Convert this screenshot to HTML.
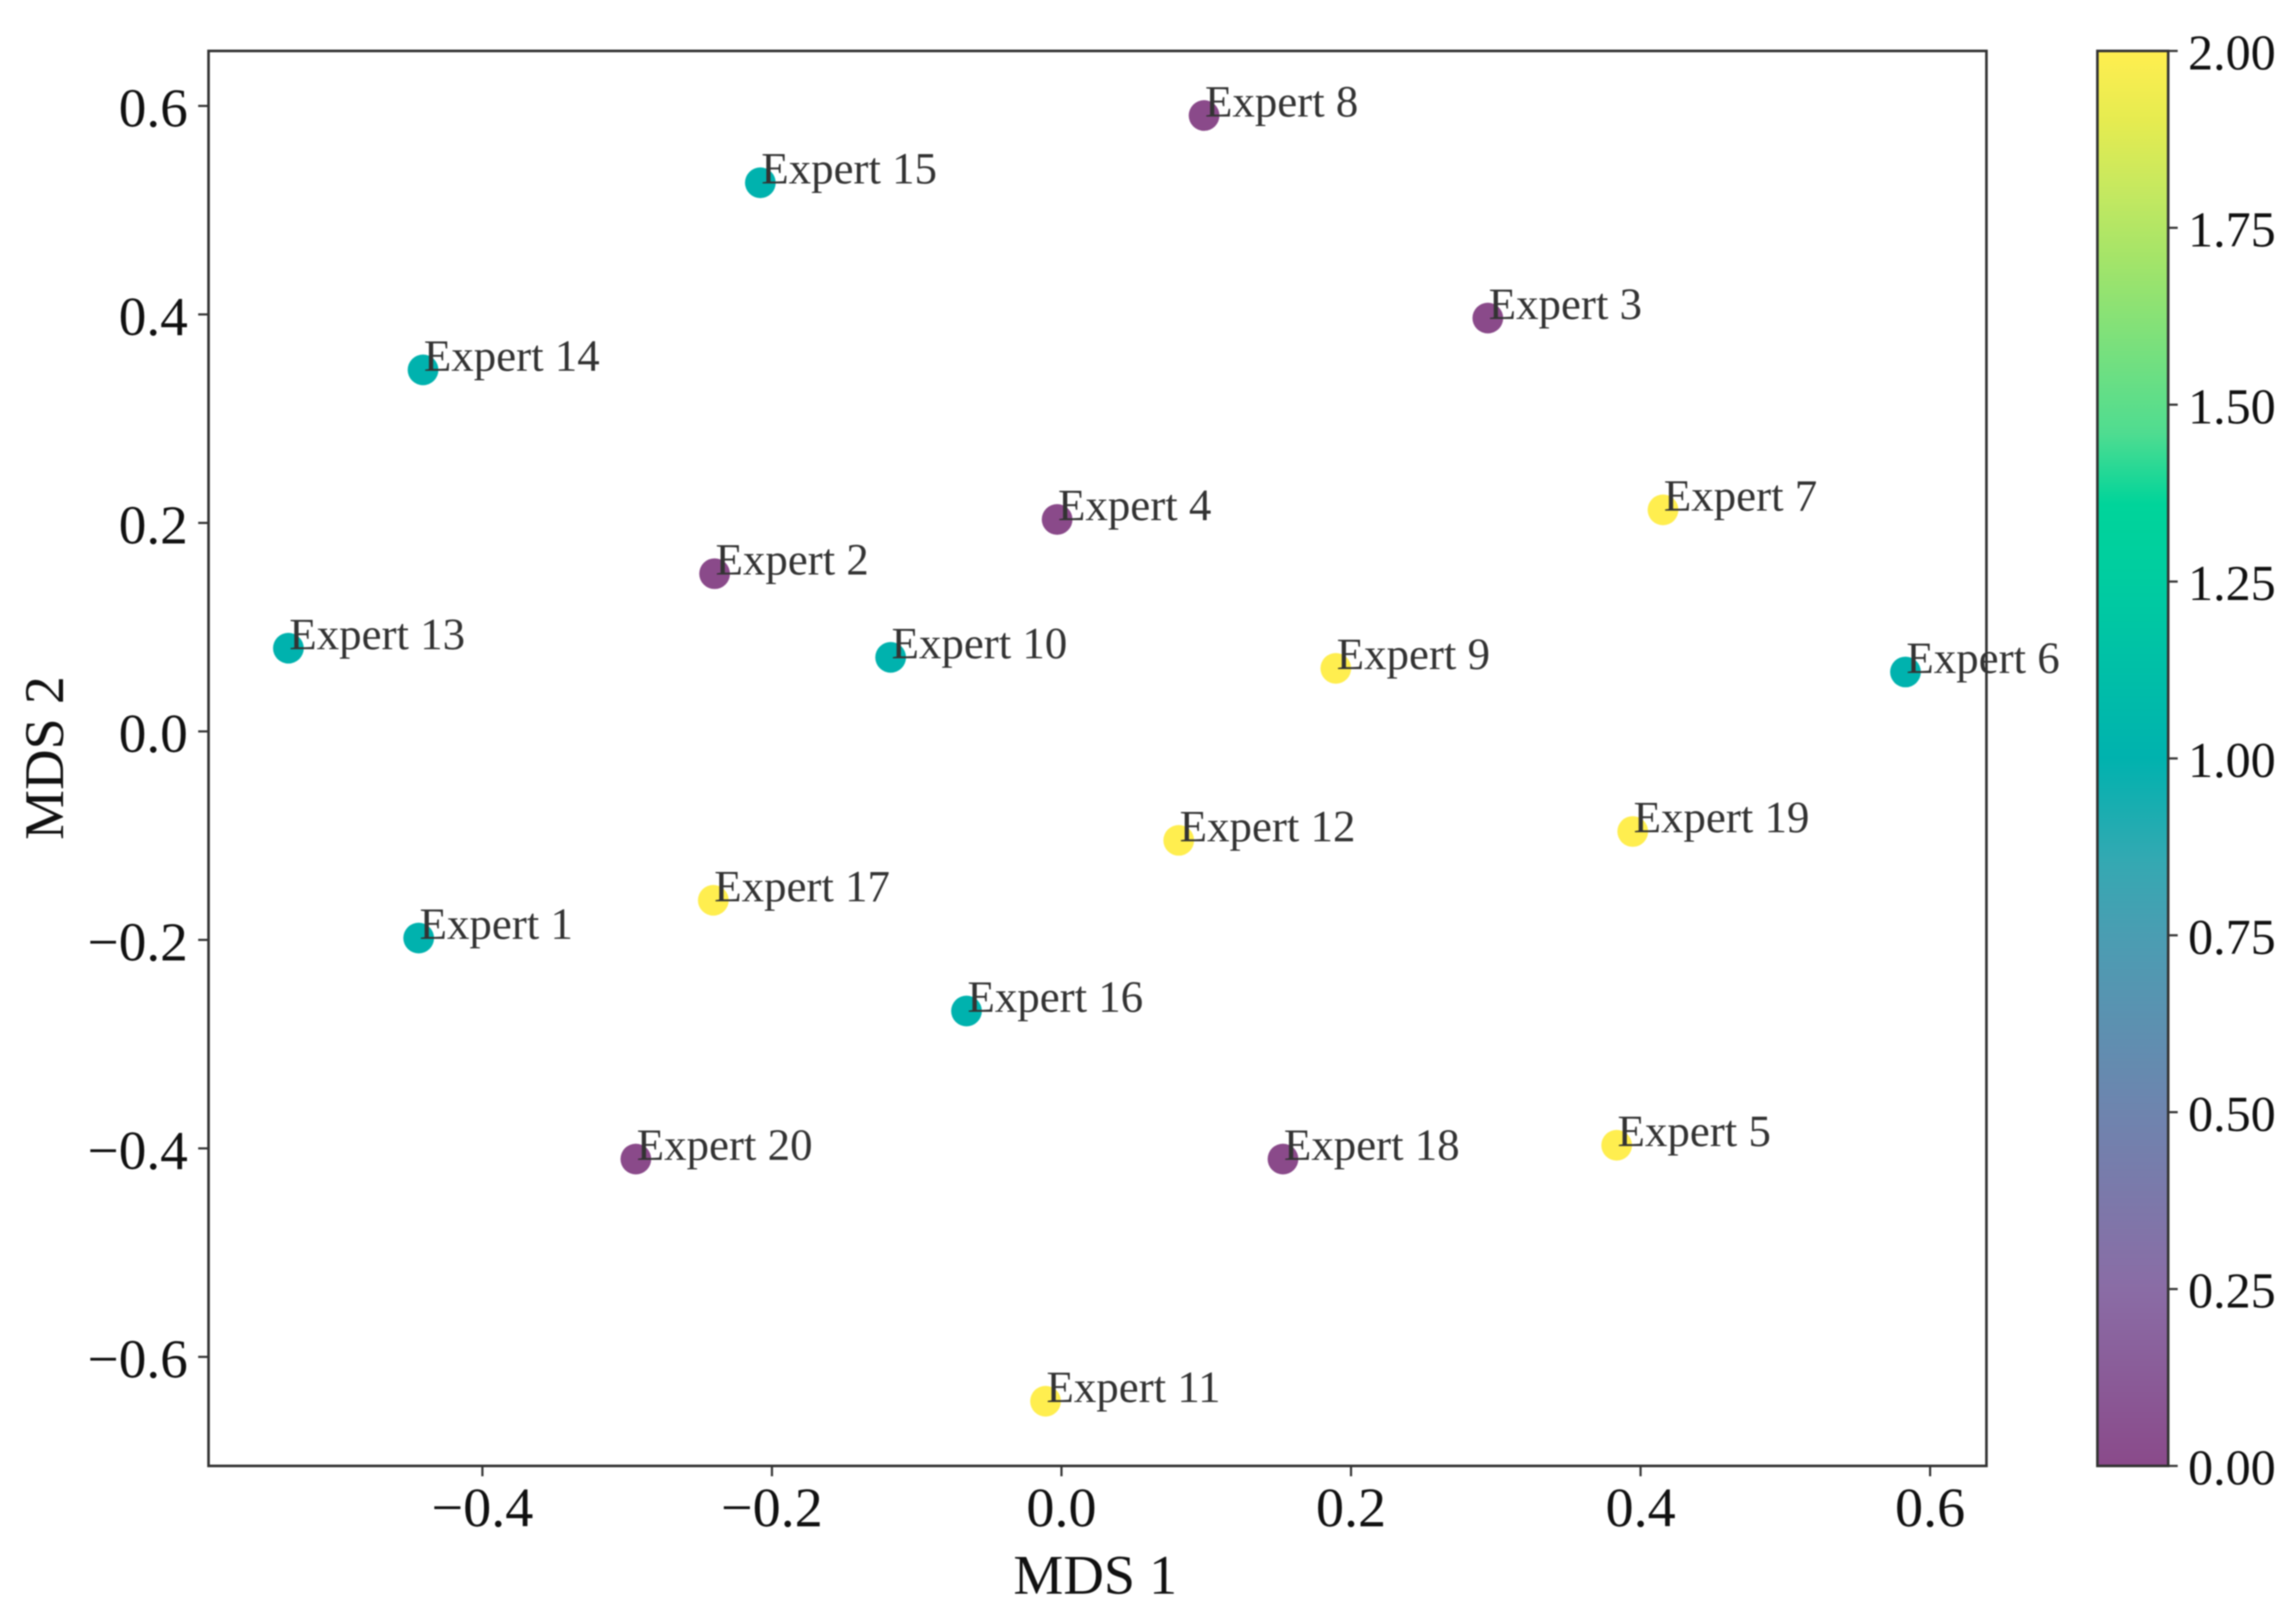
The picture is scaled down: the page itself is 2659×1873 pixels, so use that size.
<!DOCTYPE html>
<html lang="en">
<head>
<meta charset="utf-8">
<title>MDS scatter of experts</title>
<style>
html,body{margin:0;padding:0;background:#fff;}
svg{display:block;filter:blur(0.7px);}
text{font-family:"Liberation Serif",serif;}
</style>
</head>
<body>
<svg id="chart" xmlns="http://www.w3.org/2000/svg" width="2659" height="1873" viewBox="0 0 2659 1873">
  <defs>
    <linearGradient id="cbar-gradient" x1="0" y1="1" x2="0" y2="0"></linearGradient>
  </defs>
  <rect x="0" y="0" width="2659" height="1873" fill="#fff"/>
  <rect x="2429" y="59" width="82" height="1639" fill="url(#cbar-gradient)"/>
  <g id="ticks"></g>
  <g id="points"></g>
  <g id="labels"></g>
  <rect x="241.5" y="59" width="2059" height="1639" fill="none" stroke="#333" stroke-width="3"/>
  <rect x="2429" y="59" width="82" height="1639" fill="none" stroke="#333" stroke-width="3"/>
  <text x="1268.5" y="1846" font-size="65" text-anchor="middle" fill="#111">MDS 1</text>
  <text transform="translate(73,878) rotate(-90)" font-size="65" text-anchor="middle" fill="#111">MDS 2</text>
</svg>
<script>
// Chart data
const expertNames = ["Expert 1","Expert 2","Expert 3","Expert 4","Expert 5","Expert 6","Expert 7","Expert 8","Expert 9","Expert 10","Expert 11","Expert 12","Expert 13","Expert 14","Expert 15","Expert 16","Expert 17","Expert 18","Expert 19","Expert 20"];
const mds1Values = [-0.444,-0.2396,0.2945,-0.003,0.3835,0.583,0.4155,0.0985,0.1895,-0.118,-0.011,0.081,-0.534,-0.441,-0.208,-0.0656,-0.2405,0.153,0.3946,-0.294];
const mds2Values = [-0.1982,0.1513,0.3965,0.2033,-0.397,0.057,0.2125,0.5908,0.0605,0.071,-0.6425,-0.1045,0.0798,0.3468,0.5263,-0.2682,-0.162,-0.4102,-0.096,-0.4102];
const clusterValues = [1,0,0,0,2,1,2,0,2,1,2,2,1,1,1,1,2,0,2,0];
const xTickValues = [-0.4,-0.2,0,0.2,0.4,0.6];
const yTickValues = [-0.6,-0.4,-0.2,0,0.2,0.4,0.6];
const colorbarTickValues = [0,0.25,0.5,0.75,1,1.25,1.5,1.75,2];
const colormapValues = [0,0.25,0.5,0.75,0.85,1,1.25,1.36,1.46,1.71,1.8,1.9,2];
const colormapColors = ["#8a4a8a","#8a6ca5","#6e84ae","#4a9db2","#35a8b2","#00b2ae","#00cca0","#00d49a","#4fdc90","#a5e468","#c4e860","#e5eb50","#ffee4f"];

// Axis functions
const NS = "http://www.w3.org/2000/svg";
function xScale(v){ return 1229.3 + v * 1676.6; }
function yScale(v){ return 847.2 - v * 1207.5; }
function cScale(v){ return 1698 - v * 819.5; }
function hexToRgb(h){ return [1,3,5].map(i => parseInt(h.substr(i,2),16)); }
function colorFor(v){
  for (let i = 0; i < colormapValues.length - 1; i++) {
    if (v <= colormapValues[i+1]) {
      const t = Math.max(0,(v - colormapValues[i]) / (colormapValues[i+1] - colormapValues[i]));
      const a = hexToRgb(colormapColors[i]), b = hexToRgb(colormapColors[i+1]);
      return "rgb(" + a.map((c,k) => Math.round(c + (b[k]-c)*t)).join(",") + ")";
    }
  }
  return colormapColors[colormapColors.length-1];
}
function mk(tag, attrs, parent, txt){
  const el = document.createElementNS(NS, tag);
  for (const k in attrs) el.setAttribute(k, attrs[k]);
  if (txt !== undefined) el.textContent = txt;
  parent.appendChild(el);
  return el;
}
function fmt(v, d){ const s = Math.abs(v).toFixed(d); return v < 0 ? "\u2212" + s : s; }

const grad = document.getElementById("cbar-gradient");
colormapValues.forEach((v,i) => {
  mk("stop", {offset: v/2, "stop-color": colormapColors[i]}, grad);
});

const ticks = document.getElementById("ticks");
xTickValues.forEach(v => {
  const x = xScale(v);
  const line = mk("line", {x1:x, x2:x, y1:1698, y2:1710, stroke:"#333", "stroke-width":2.5}, ticks);
  
  
  const t = mk("text", {x:x, y:1768, "font-size":65, "text-anchor":"middle", fill:"#111"}, ticks, fmt(v,1));
  
  
});
yTickValues.forEach(v => {
  const y = yScale(v);
  const line = mk("line", {x1:229.5, x2:241.5, y1:y, y2:y, stroke:"#333", "stroke-width":2.5}, ticks);
  
  
  const t = mk("text", {x:217.5, y:y+24, "font-size":64, "text-anchor":"end", fill:"#111"}, ticks, fmt(v,1));
  
  
});
colorbarTickValues.forEach(v => {
  const y = cScale(v);
  const line = mk("line", {x1:2511, x2:2522, y1:y, y2:y, stroke:"#333", "stroke-width":2.5}, ticks);
  
  
  const t = mk("text", {x:2534, y:y+21.5, "font-size":58, fill:"#111"}, ticks, v.toFixed(2));
  
  
});

const points = document.getElementById("points");
const labels = document.getElementById("labels");
expertNames.forEach((name,i) => {
  const cx = xScale(mds1Values[i]), cy = yScale(mds2Values[i]);
  const dot = mk("circle", {cx:cx, cy:cy, r:17.8, fill:colorFor(clusterValues[i])}, points);
  
  
  const t = mk("text", {x:cx+1, y:cy+1, "font-size":52, fill:"#333"}, labels, name);
  
  
});
</script>
</body>
</html>
